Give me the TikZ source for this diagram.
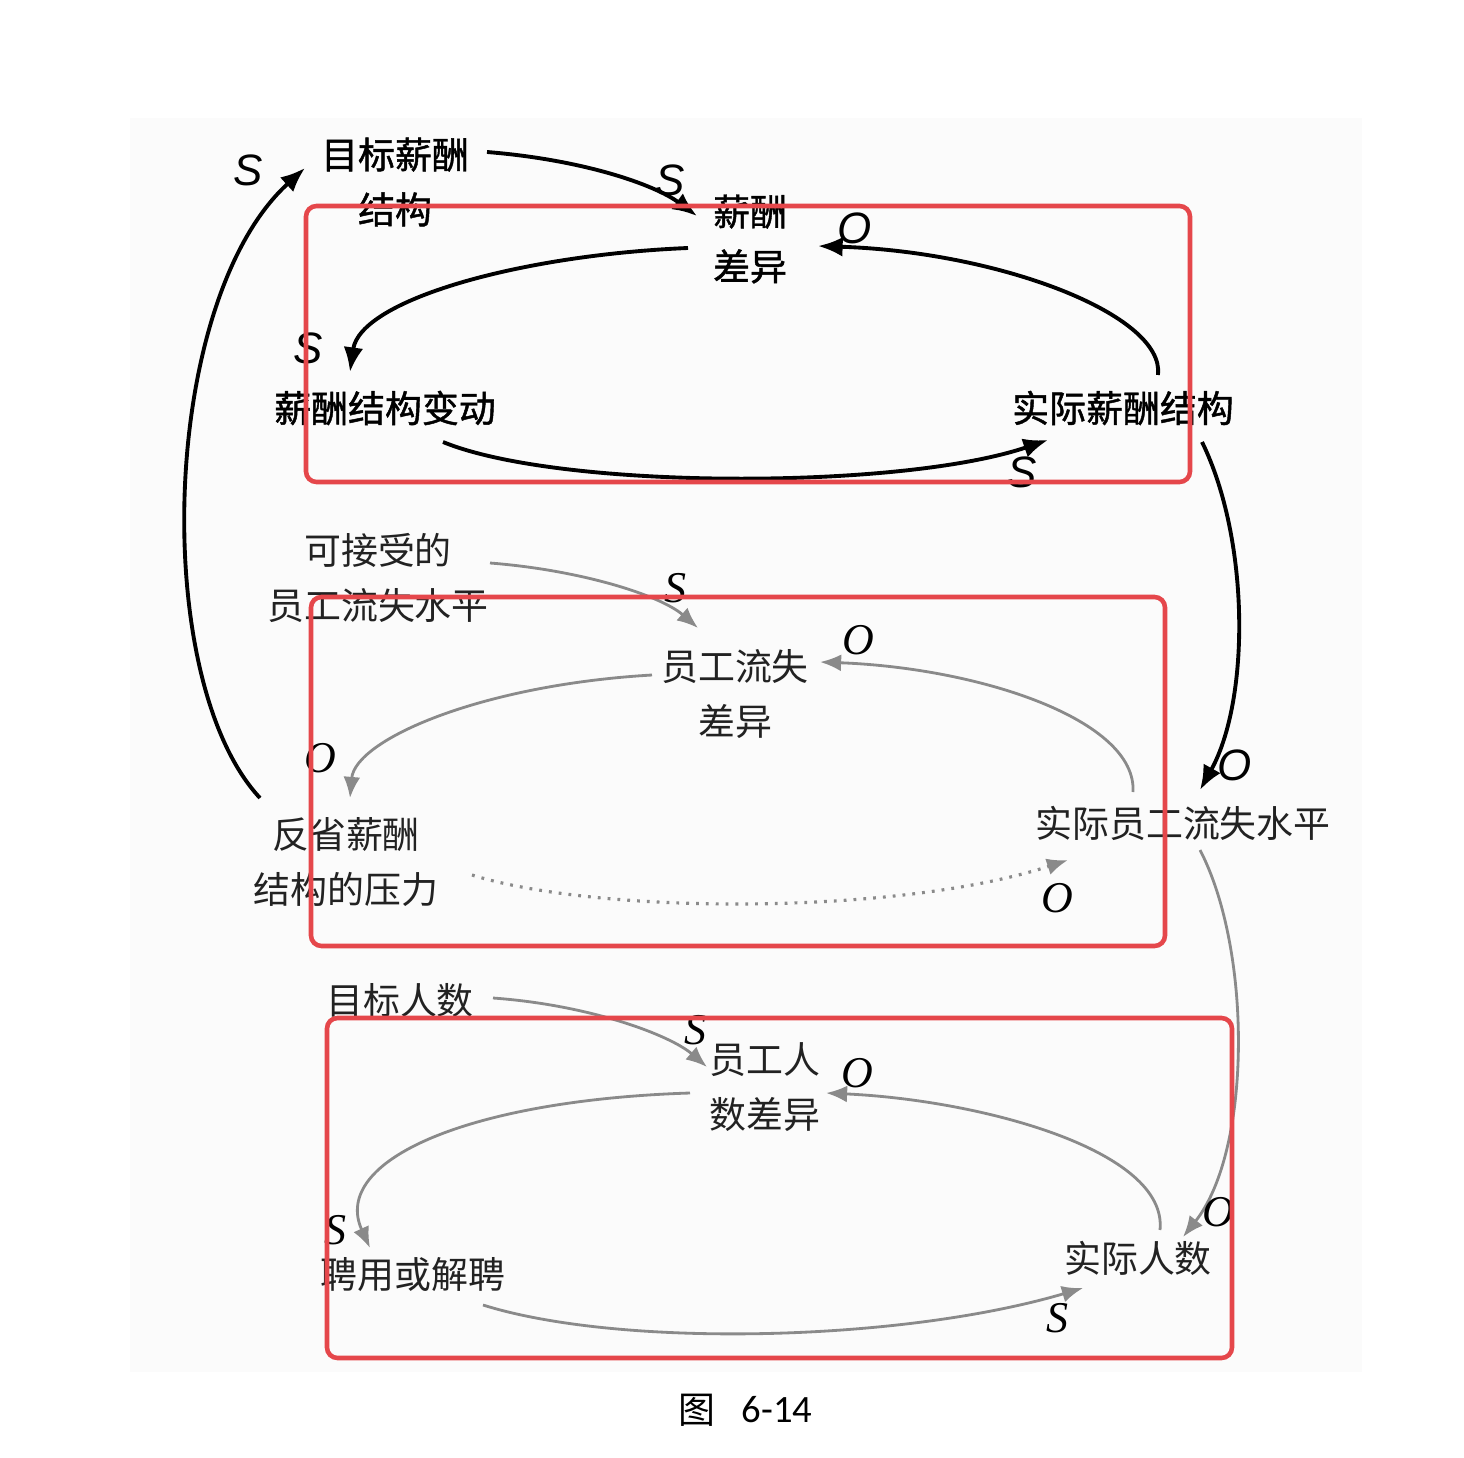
\documentclass[tikz,border=0pt]{standalone}
\usepackage{fontspec}
\setmainfont{Liberation Serif}
\newfontfamily\cjk{Noto Sans CJK SC}
\newfontfamily\cjkb[FakeBold=1.2]{Noto Sans CJK SC}
\newfontfamily\lsans{Liberation Sans}
\newfontfamily\calib{Carlito}
\usetikzlibrary{arrows.meta}
\definecolor{redbox}{HTML}{E5474B}
\definecolor{grayline}{HTML}{8A8A8A}
\definecolor{txtc}{HTML}{222222}
\begin{document}
\begin{tikzpicture}[x=0.01cm,y=-0.01cm,
  txt/.style={font=\cjk\fontsize{10.5}{15.6}\selectfont, text=txtc, inner sep=0pt, align=center},
  txtb/.style={txt, font=\cjkb\fontsize{10.5}{15.6}\selectfont, text=black},
  blk/.style={line width=1.1pt, -{Latex[length=7pt,width=5.6pt]}},
  gry/.style={draw=grayline, line width=0.8pt, -{Latex[length=6pt,width=4.8pt]}},
  lbls/.style={font=\lsans\itshape\fontsize{12.5}{12}\selectfont, inner sep=0pt},
  lblr/.style={font=\itshape\fontsize{12.5}{12}\selectfont, inner sep=0pt},
  box/.style={draw=redbox, line width=1.3pt, rounded corners=3pt}]
\useasboundingbox (0,0) rectangle (1464,1458);
\fill[black!1.5] (130,118) rectangle (1362,1372);

% ---------- nodes ----------
\node[txtb] (tgt) at (395,182) {目标薪酬\\结构};
\node[txtb] (gap) at (750,239) {薪酬\\差异};
\node[txtb] (chg) at (385,408) {薪酬结构变动};
\node[txtb] (act) at (1123,408) {实际薪酬结构};

\node[txt] (acc) at (378,578) {可接受的\\员工流失水平};
\node[txt] (tgap) at (735,694) {员工流失\\差异};
\node[txt] (press) at (346,862) {反省薪酬\\结构的压力};
\node[txt] (tact) at (1183,823) {实际员工流失水平};

\node[txt] (hc) at (400,1000) {目标人数};
\node[txt] (hgap) at (765,1087) {员工人\\数差异};
\node[txt] (hire) at (413,1275) {聘用或解聘};
\node[txt] (hact) at (1138,1258) {实际人数};

% ---------- top section (black) ----------
\draw[blk] ([shift={(92,-30)}]tgt.center) .. controls (585,160) and (655,185) .. ([shift={(-53,-23)}]gap.center);
\draw[blk] ([shift={(-62,9)}]gap.center) .. controls (520,255) and (360,300) .. ([shift={(-35,-36)}]chg.center);
\draw[blk] ([shift={(35,-33)}]act.center) .. controls (1165,315) and (1000,252) .. ([shift={(68,7)}]gap.center);
\draw[blk] ([shift={(58,34)}]chg.center) .. controls (560,490) and (900,490) .. ([shift={(-75,32)}]act.center);
\draw[blk] ([shift={(-86,-64)}]press.center) .. controls (150,680) and (160,300) .. ([shift={(-90,-14)}]tgt.center);
\draw[blk] ([shift={(79,34)}]act.center) .. controls (1250,540) and (1250,700) .. ([shift={(17,-33)}]tact.center);

\node[lbls] (l1) at (248,170) {S};
\node[lbls] (l2) at (670,180) {S};
\node[lbls] (l3) at (855,228) {O};
\node[lbls] (l4) at (308,348) {S};
\node[lbls] (l5) at (1022,472) {S};
\node[lbls] (l6) at (1235,765) {O};

% ---------- middle section (gray) ----------
\draw[gry] ([shift={(112,-15)}]acc.center) .. controls (580,570) and (660,595) .. ([shift={(-37,-66)}]tgap.center);
\draw[gry] ([shift={(-83,-19)}]tgap.center) .. controls (480,685) and (355,740) .. ([shift={(4,-64)}]press.center);
\draw[gry] ([shift={(-50,-31)}]tact.center) .. controls (1137,720) and (980,668) .. ([shift={(85,-32)}]tgap.center);
\draw[gry,dotted,line width=0.9pt] ([shift={(126,13)}]press.center) .. controls (600,915) and (900,915) .. ([shift={(-115,37)}]tact.center);
\draw[gry] ([shift={(17,27)}]tact.center) .. controls (1252,950) and (1252,1150) .. ([shift={(45,-21)}]hact.center);

\node[lblr] (m1) at (675,588) {S};
\node[lblr] (m2) at (858,640) {O};
\node[lblr] (m3) at (320,758) {O};
\node[lblr] (m4) at (1057,898) {O};
\node[lblr] (m5) at (1218,1212) {O};

% ---------- bottom section (gray) ----------
\draw[gry] ([shift={(93,-2)}]hc.center) .. controls (590,1005) and (670,1035) .. ([shift={(-58,-20)}]hgap.center);
\draw[gry] ([shift={(-75,6)}]hgap.center) .. controls (470,1100) and (330,1160) .. ([shift={(-43,-27)}]hire.center);
\draw[gry] ([shift={(22,-28)}]hact.center) .. controls (1168,1150) and (980,1100) .. ([shift={(61,6)}]hgap.center);
\draw[gry] ([shift={(70,30)}]hire.center) .. controls (620,1348) and (900,1342) .. ([shift={(-55,30)}]hact.center);

\node[lblr] (b1) at (695,1030) {S};
\node[lblr] (b2) at (857,1073) {O};
\node[lblr] (b3) at (335,1230) {S};
\node[lblr] (b4) at (1057,1318) {S};

% ---------- red boxes ----------
\draw[box] (306,206) rectangle (1190,482);
\draw[box] (311,597) rectangle (1165,946);
\draw[box] (327,1018) rectangle (1232,1358);

% ---------- caption ----------
\node[inner sep=0pt, font=\cjk\fontsize{10.5}{12}\selectfont] (capA) at (697,1410) {图};
\node[inner sep=0pt, font=\calib\fontsize{11}{12}\selectfont] (capB) at (777,1410) {6-14};
\end{tikzpicture}
\end{document}
